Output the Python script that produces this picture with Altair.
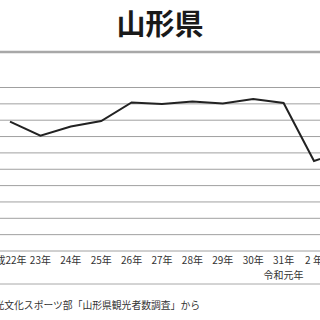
import altair as alt
import pandas as pd

title_text = "山形県"
years = ["平成22年", "23年", "24年", "25年", "26年", "27年", "28年", "29年", "30年", "31年", "2 年", "3年"]
sub_labels = ["", "", "", "", "", "", "", "", "", "令和元年", "", ""]
visitors = [3954, 3526, 3807, 3976, 4541, 4495, 4572, 4511, 4648, 4526, 2752, 3058]
grid_values = [0, 500, 1000, 1500, 2000, 2500, 3000, 3500, 4000, 4500, 5000]
source_text = "山形県観光文化スポーツ部「山形県観光者数調査」から"

FONT = "Noto Sans CJK JP"

df = pd.DataFrame({"idx": list(range(len(years))), "year": years, "sub": sub_labels, "v": visitors})
xs = alt.Scale(domain=[0, 10], range=[10, 314])
ys = alt.Scale(domain=[0, 5000], range=[251, 87.5], nice=False, zero=False)

grid = alt.Chart(pd.DataFrame({"g": grid_values})).mark_rule(color="#a0a0a0", strokeWidth=1).encode(
    y=alt.Y("g:Q", scale=ys, axis=None), x=alt.value(0), x2=alt.value(320)
)

line = alt.Chart(df).mark_line(clip=True, color="#222222", strokeWidth=2).encode(
    x=alt.X("idx:Q", scale=xs, axis=None), y=alt.Y("v:Q", scale=ys, axis=None)
)

labels_first = alt.Chart(df).transform_filter("datum.idx == 0").mark_text(
    font=FONT, fontSize=10, color="#333333", baseline="middle", dx=-4
).encode(x=alt.X("idx:Q", scale=xs, axis=None), y=alt.value(261), text="year:N")

labels = alt.Chart(df).transform_filter("datum.idx > 0").mark_text(
    font=FONT, fontSize=10, color="#333333", baseline="middle"
).encode(x=alt.X("idx:Q", scale=xs, axis=None), y=alt.value(261), text="year:N")

sublabels = alt.Chart(df).mark_text(font=FONT, fontSize=10, color="#333333", baseline="middle").encode(
    x=alt.X("idx:Q", scale=xs, axis=None), y=alt.value(276), text="sub:N"
)

title = alt.Chart(pd.DataFrame({"t": [title_text]})).mark_text(
    font=FONT, fontSize=29, fontWeight="bold", color="#1a1a1a", baseline="middle"
).encode(x=alt.value(160), y=alt.value(26), text="t:N")

top_sep = alt.Chart(pd.DataFrame({"a": [0]})).mark_rule(color="#a8a8a8", strokeWidth=2.5).encode(
    x=alt.value(0), x2=alt.value(320), y=alt.value(52)
)
bottom_sep = alt.Chart(pd.DataFrame({"a": [0]})).mark_rule(color="#a8a8a8", strokeWidth=1).encode(
    x=alt.value(0), x2=alt.value(320), y=alt.value(284)
)

source = alt.Chart(pd.DataFrame({"s": [source_text]})).mark_text(
    font=FONT, fontSize=9.8, color="#333333", align="right", baseline="middle"
).encode(x=alt.value(200), y=alt.value(306), text="s:N")

chart = alt.layer(grid, top_sep, bottom_sep, line, labels_first, labels, sublabels, title, source).properties(
    width=320, height=320, autosize=alt.AutoSizeParams(type="none"), padding=0, background="white"
).configure_view(stroke=None)

chart.save("out.html", embed_options={"renderer": "svg", "actions": False})
